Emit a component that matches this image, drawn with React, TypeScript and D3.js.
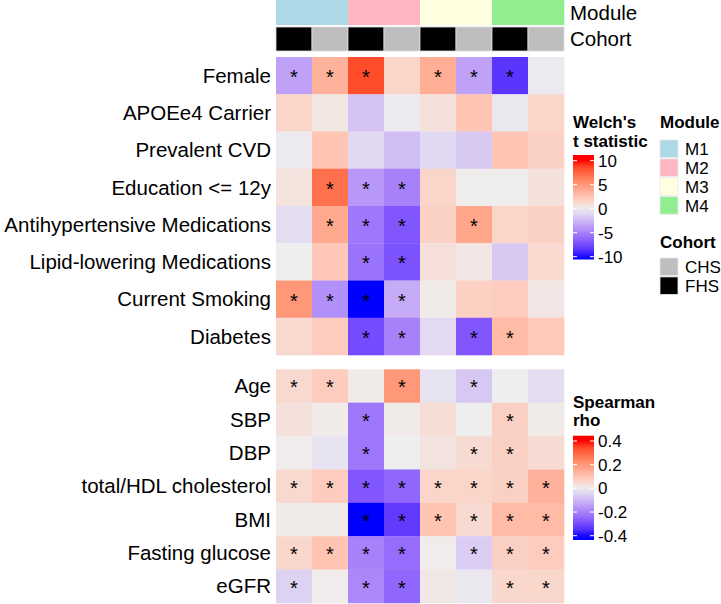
import React from "react";
import * as d3 from "d3";

const columns = ["M1-FHS", "M1-CHS", "M2-FHS", "M2-CHS", "M3-FHS", "M3-CHS", "M4-FHS", "M4-CHS"];
const colModule = ["M1", "M1", "M2", "M2", "M3", "M3", "M4", "M4"];
const colCohort = ["FHS", "CHS", "FHS", "CHS", "FHS", "CHS", "FHS", "CHS"];

const moduleNames = ["M1", "M2", "M3", "M4"];
const moduleColors = ["#ADD8E6", "#FFB6C1", "#FFFFE0", "#90EE90"];
const cohortNames = ["CHS", "FHS"];
const cohortColors = ["#BEBEBE", "#000000"];

const tRows = [
  "Female",
  "APOEe4 Carrier",
  "Prevalent CVD",
  "Education <= 12y",
  "Antihypertensive Medications",
  "Lipid-lowering Medications",
  "Current Smoking",
  "Diabetes",
];
const tValues = [
  [-3.5, 3.5, 8.5, 1.5, 3.8, -3.5, -8.5, -0.2],
  [1.5, 0.5, -2, -0.2, 0.8, 2.5, -0.3, 1.5],
  [-0.2, 2.5, -1, -2.2, -1, -1.7, 2.5, 1.7],
  [0.7, 7, -4, -5, 1.5, 0.1, 0.1, 0.8],
  [-0.8, 4, -5.5, -7, 1.7, 4.2, 1.5, 1.7],
  [0, 2.3, -5.7, -7.2, 0.9, 0.4, -1.7, 1.2],
  [5, -4.3, -10, -3, 0.2, 1.8, 2, 0.4],
  [1.3, 2, -7.5, -5, -0.9, -7, 3, 2.2],
];
const tSig = [
  [1, 1, 1, 0, 1, 1, 1, 0],
  [0, 0, 0, 0, 0, 0, 0, 0],
  [0, 0, 0, 0, 0, 0, 0, 0],
  [0, 1, 1, 1, 0, 0, 0, 0],
  [0, 1, 1, 1, 0, 1, 0, 0],
  [0, 0, 1, 1, 0, 0, 0, 0],
  [1, 1, 1, 1, 0, 0, 0, 0],
  [0, 0, 1, 1, 0, 1, 1, 0],
];

const rhoRows = ["Age", "SBP", "DBP", "total/HDL cholesterol", "BMI", "Fasting glucose", "eGFR"];
const rhoValues = [
  [0.05, 0.08, 0.01, 0.2, -0.02, -0.07, 0, -0.03],
  [0.03, 0.01, -0.22, 0.01, 0.04, 0, 0.07, 0.01],
  [0.005, -0.02, -0.22, 0, 0.025, 0.045, 0.07, 0.045],
  [0.05, 0.08, -0.28, -0.25, 0.06, 0.06, 0.07, 0.14],
  [0.01, 0.01, -0.4, -0.33, 0.1, 0.045, 0.12, 0.12],
  [0.055, 0.1, -0.2, -0.24, 0.005, -0.06, 0.07, 0.08],
  [-0.05, 0.005, -0.19, -0.25, 0.015, -0.01, 0.055, 0.055],
];
const rhoSig = [
  [1, 1, 0, 1, 0, 1, 0, 0],
  [0, 0, 1, 0, 0, 0, 1, 0],
  [0, 0, 1, 0, 0, 1, 1, 0],
  [1, 1, 1, 1, 1, 1, 1, 1],
  [0, 0, 1, 1, 1, 1, 1, 1],
  [1, 1, 1, 1, 0, 1, 1, 1],
  [1, 0, 1, 1, 0, 0, 1, 1],
];

const tTicks = [10, 5, 0, -5, -10];
const rhoTicks = [0.4, 0.2, 0, -0.2, -0.4];
const rhoTickLabels = ["0.4", "0.2", "0", "-0.2", "-0.4"];

const FONT = "'Liberation Sans', Arial, Helvetica, sans-serif";

export default function App() {
  const x = d3.scaleBand<string>().domain(columns).range([276, 564]);
  const yTop = d3.scaleBand<string>().domain(tRows).range([57, 355]);
  const yBot = d3.scaleBand<string>().domain(rhoRows).range([369.3, 603]);

  const tColor = d3
    .scaleLinear<string>()
    .domain([-10, 0, 10])
    .range(["#0000FF", "#EEEEEE", "#FF0000"])
    .interpolate(d3.interpolateLab)
    .clamp(true);
  const rColor = d3
    .scaleLinear<string>()
    .domain([-0.4, 0, 0.4])
    .range(["#0000FF", "#EEEEEE", "#FF0000"])
    .interpolate(d3.interpolateLab)
    .clamp(true);

  const modColor = d3.scaleOrdinal<string, string>().domain(moduleNames).range(moduleColors);
  const cohColor = d3.scaleOrdinal<string, string>().domain(cohortNames).range(cohortColors);

  const tLegY = d3.scaleLinear().domain([10, -10]).range([160.7, 256.7]);
  const rLegY = d3.scaleLinear().domain([0.4, -0.4]).range([441, 535.7]);

  const gradStops = d3.range(0, 1.0001, 0.05);

  const renderBlock = (
    rows: string[],
    vals: number[][],
    sig: number[][],
    y: d3.ScaleBand<string>,
    color: (v: number) => string
  ) => (
    <g>
      {rows.map((r, i) =>
        columns.map((c, j) => (
          <rect
            key={r + c}
            x={x(c)}
            y={y(r)}
            width={x.bandwidth() + 0.3}
            height={y.bandwidth() + 0.3}
            fill={color(vals[i][j])}
          />
        ))
      )}
      {rows.map((r, i) =>
        columns.map((c, j) =>
          sig[i][j] ? (
            <text
              key={"s" + r + c}
              x={(x(c) as number) + x.bandwidth() / 2}
              y={(y(r) as number) + y.bandwidth() / 2 + 8.5}
              textAnchor="middle"
              fontSize={20}
              fontFamily={FONT}
              fill="#000"
            >
              *
            </text>
          ) : null
        )
      )}
      {rows.map((r) => (
        <text
          key={"l" + r}
          x={271}
          y={(y(r) as number) + y.bandwidth() / 2}
          dy="0.35em"
          textAnchor="end"
          fontSize={20.5}
          fontFamily={FONT}
          fill="#000"
        >
          {r}
        </text>
      ))}
    </g>
  );

  const legendBar = (
    id: string,
    yScale: d3.ScaleLinear<number, number>,
    ticks: number[],
    labels: string[],
    color: (v: number) => string,
    top: number,
    bottom: number
  ) => {
    const [d0, d1] = yScale.domain();
    return (
      <g>
        <defs>
          <linearGradient id={id} x1="0" y1="0" x2="0" y2="1">
            {gradStops.map((s) => {
              const yy = top + s * (bottom - top);
              const v = yScale.invert(yy);
              return <stop key={s} offset={s} stopColor={color(Math.max(Math.min(v, d0), d1))} />;
            })}
          </linearGradient>
        </defs>
        <rect x={573} y={top} width={21} height={bottom - top} fill={`url(#${id})`} />
        {ticks.map((t, i) => (
          <g key={t}>
            <line x1={573} x2={577} y1={yScale(t)} y2={yScale(t)} stroke="#fff" strokeWidth={1} />
            <line x1={590} x2={594} y1={yScale(t)} y2={yScale(t)} stroke="#fff" strokeWidth={1} />
            <text x={598} y={yScale(t)} dy="0.35em" fontSize={17} fontFamily={FONT} fill="#000">
              {labels[i]}
            </text>
          </g>
        ))}
      </g>
    );
  };

  return (
    <svg
      width={721}
      height={604}
      style={{ position: "absolute", left: 0, top: 0, background: "#fff" }}
    >
      <rect x={0} y={0} width={721} height={604} fill="#fff" />
      {/* annotations */}
      {columns.map((c, j) => (
        <rect key={"m" + c} x={x(c)} y={0} width={x.bandwidth() + 0.3} height={25} fill={modColor(colModule[j])} />
      ))}
      {columns.map((c, j) => (
        <rect
          key={"c" + c}
          x={x(c)}
          y={27}
          width={x.bandwidth()}
          height={24}
          fill={cohColor(colCohort[j])}
          stroke="#ddd"
          strokeWidth={0.8}
        />
      ))}
      <text x={570} y={12.5} dy="0.35em" fontSize={20.5} fontFamily={FONT}>
        Module
      </text>
      <text x={570} y={39} dy="0.35em" fontSize={20.5} fontFamily={FONT}>
        Cohort
      </text>

      {renderBlock(tRows, tValues, tSig, yTop, tColor)}
      {renderBlock(rhoRows, rhoValues, rhoSig, yBot, rColor)}

      {/* Welch legend */}
      <text x={573} y={128} fontSize={17} fontWeight="bold" fontFamily={FONT}>
        Welch's
      </text>
      <text x={573} y={146.5} fontSize={17} fontWeight="bold" fontFamily={FONT}>
        t statistic
      </text>
      {legendBar("tgrad", tLegY, tTicks, tTicks.map(String), tColor, 155, 259.5)}

      {/* Module legend */}
      <text x={660} y={128} fontSize={17} fontWeight="bold" fontFamily={FONT}>
        Module
      </text>
      {moduleNames.map((m, i) => (
        <g key={m}>
          <rect x={660} y={140 + i * 18.9} width={18} height={17.5} fill={modColor(m)} stroke="#e8e8e8" strokeWidth={0.8} />
          <text x={685} y={140 + i * 18.9 + 9} dy="0.35em" fontSize={17} fontFamily={FONT}>
            {m}
          </text>
        </g>
      ))}

      {/* Cohort legend */}
      <text x={660} y={248} fontSize={17} fontWeight="bold" fontFamily={FONT}>
        Cohort
      </text>
      {cohortNames.map((m, i) => (
        <g key={m}>
          <rect x={660} y={258 + i * 18.9} width={18} height={17.5} fill={cohColor(m)} stroke="#e8e8e8" strokeWidth={0.8} />
          <text x={685} y={258 + i * 18.9 + 9} dy="0.35em" fontSize={17} fontFamily={FONT}>
            {m}
          </text>
        </g>
      ))}

      {/* Spearman legend */}
      <text x={573} y={408} fontSize={17} fontWeight="bold" fontFamily={FONT}>
        Spearman
      </text>
      <text x={573} y={426} fontSize={17} fontWeight="bold" fontFamily={FONT}>
        rho
      </text>
      {legendBar("rgrad", rLegY, rhoTicks, rhoTickLabels, rColor, 435.7, 540)}
    </svg>
  );
}
